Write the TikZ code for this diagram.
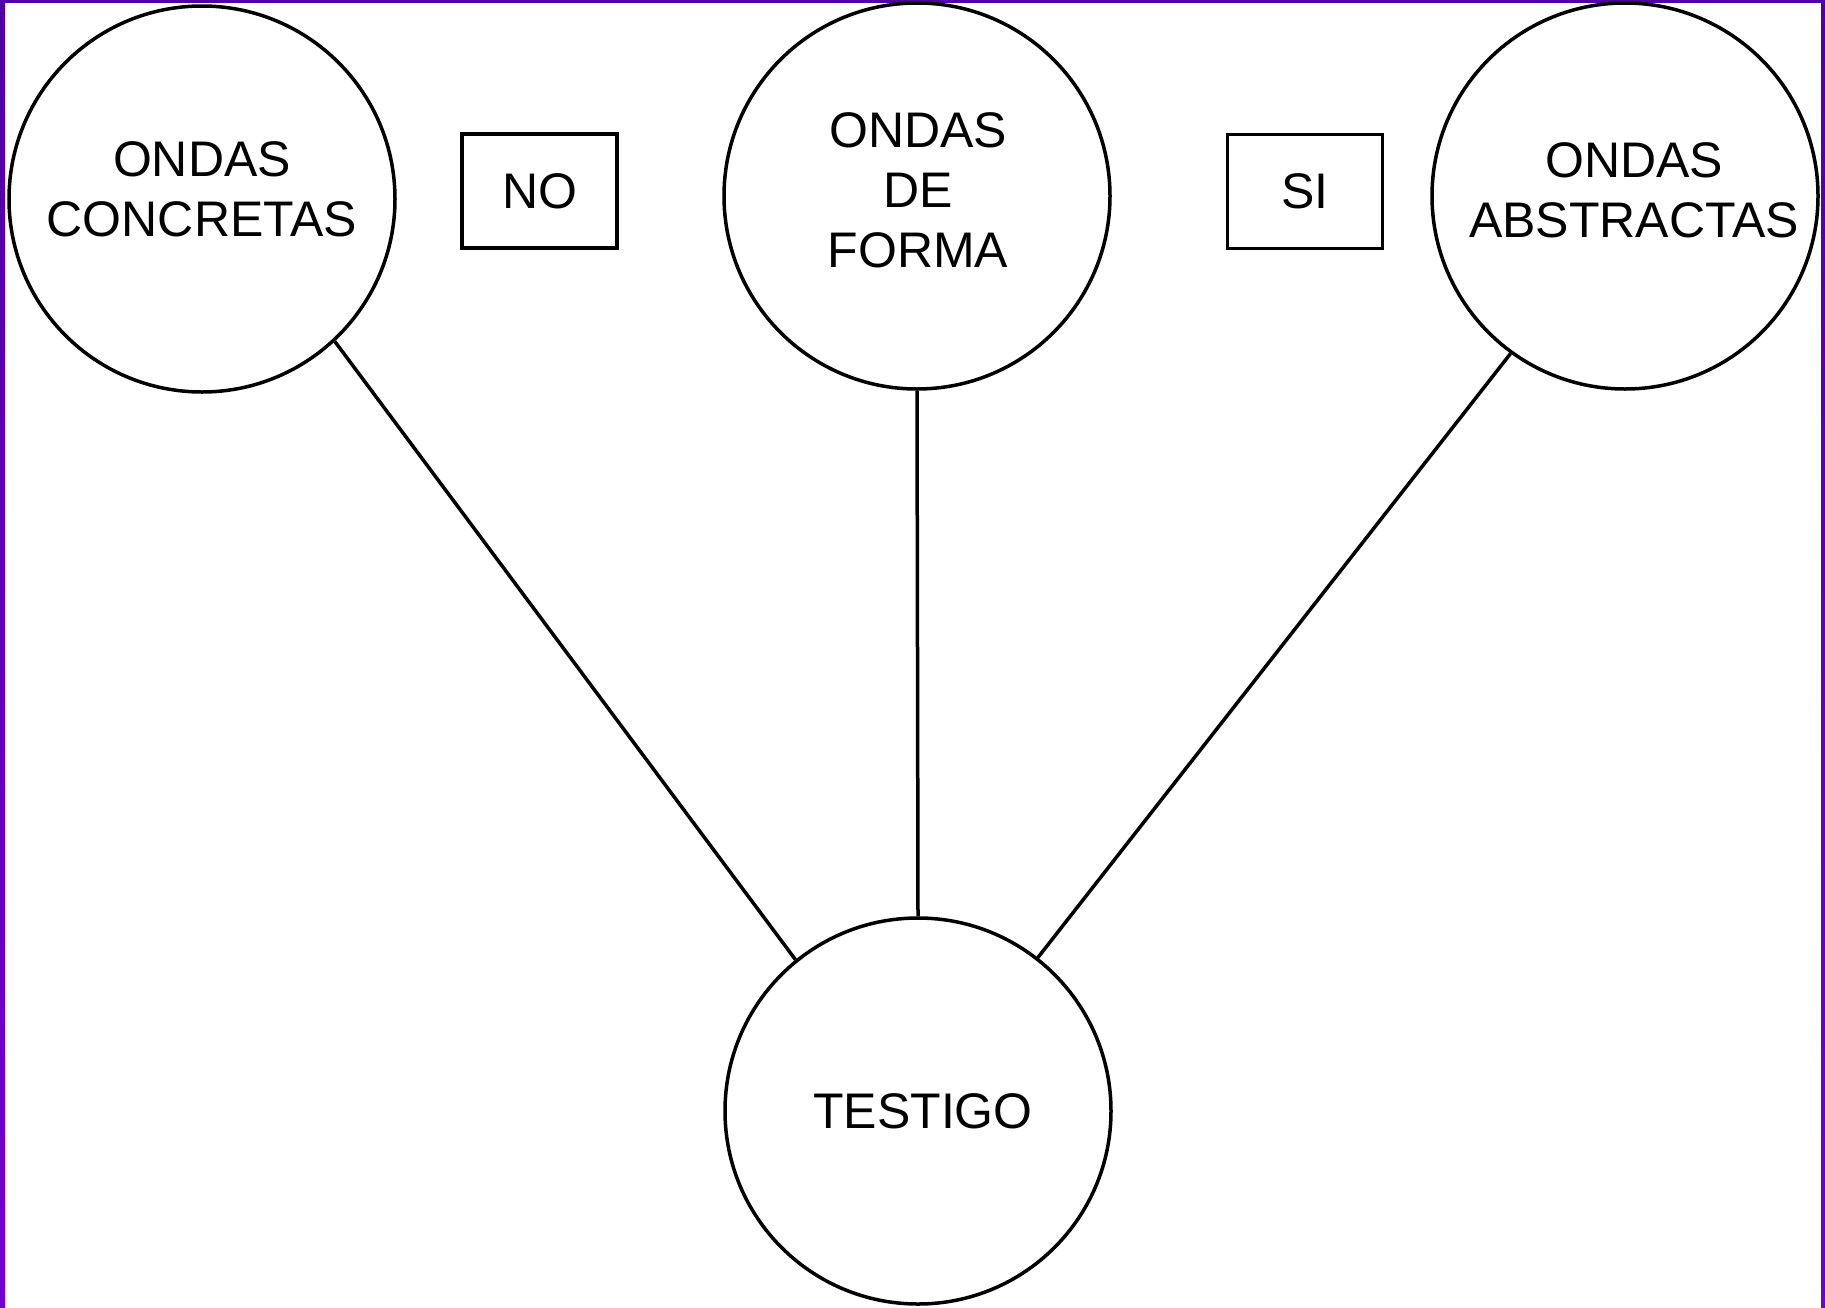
\documentclass[tikz,border=0pt]{standalone}
\usepackage{fontspec}
\setmainfont{Liberation Sans}
\begin{document}
\begin{tikzpicture}[x=0.5pt,y=-0.5pt,
  bubble/.style={circle,draw=black,line width=1.75pt,minimum size=193pt,inner sep=0pt},
  tag/.style={draw=black,line width=1.75pt,minimum width=77.5pt,minimum height=57pt,inner sep=0pt,font=\fontsize{25}{30}\selectfont},
  txt/.style={align=center,inner sep=0pt,font=\fontsize{25}{30}\selectfont},
  link/.style={draw=black,line width=1.75pt}]
\definecolor{frameA}{HTML}{5000A4}
\definecolor{frameB}{HTML}{7200CE}
\useasboundingbox (0,0) rectangle (1825,1307);
\fill[white] (0,0) rectangle (1825,1307);
% purple frame
\shade[top color=frameA,bottom color=frameB] (0,0) rectangle (5,1307);
\shade[top color=frameA,bottom color=frameB] (1821,0) rectangle (1825,1307);
\fill[frameA] (0,0) rectangle (1825,2.5);
% circles
\node[bubble] (L) at (202,199) {};
\node[bubble] (M) at (917,196) {};
\node[bubble] (R) at (1625,196) {};
\node[bubble] (T) at (918,1111) {};
% texts
\node[txt] (Lt) at (202,189) {ONDAS\\CONCRETAS};
\node[txt] (Mt) at (918,190) {ONDAS\\DE\\FORMA};
\node[txt] (Rt) at (1634,190) {ONDAS\\ABSTRACTAS};
\node[txt] (Tt) at (923,1111) {TESTIGO};
% boxes
\node[tag] (NO) at (539.5,191) {NO};
\node[tag] (SI) at (1305,191.5) {SI};
% connectors
\draw[link] (L.-47.5) -- (T.129.4);
\draw[link] (M.south) -- (T.north);
\draw[link] (R.-126.2) -- (T.52.8);
\end{tikzpicture}
\end{document}
